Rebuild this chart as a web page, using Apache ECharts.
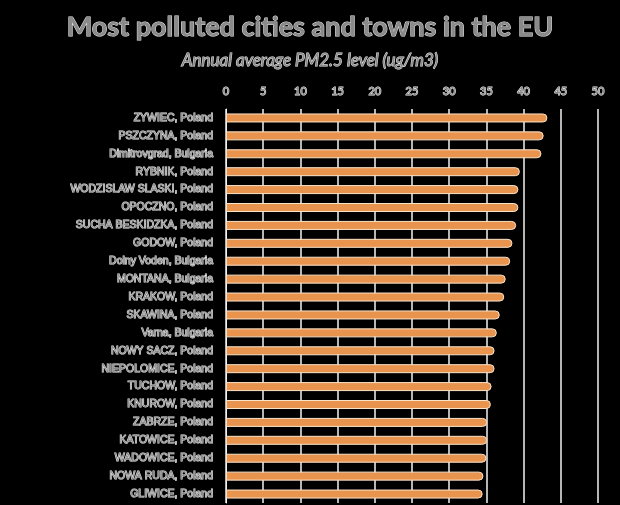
<!DOCTYPE html>
<html>
<head>
<meta charset="utf-8">
<script src="https://cdn.jsdelivr.net/npm/echarts@6/dist/echarts.min.js"></script>
<style>
  html, body { margin: 0; padding: 0; background: #000; }
  #container { width: 620px; height: 505px; }
</style>
</head>
<body>
<div id="container"></div>
<script>
// cities, top to bottom as in the picture
var cities = [
    'ZYWIEC, Poland', 'PSZCZYNA, Poland', 'Dimitrovgrad, Bulgaria', 'RYBNIK, Poland',
    'WODZISLAW SLASKI, Poland', 'OPOCZNO, Poland', 'SUCHA BESKIDZKA, Poland', 'GODOW, Poland',
    'Dolny Voden, Bulgaria', 'MONTANA, Bulgaria', 'KRAKOW, Poland', 'SKAWINA, Poland',
    'Varna, Bulgaria', 'NOWY SACZ, Poland', 'NIEPOLOMICE, Poland', 'TUCHOW, Poland',
    'KNUROW, Poland', 'ZABRZE, Poland', 'KATOWICE, Poland', 'WADOWICE, Poland',
    'NOWA RUDA, Poland', 'GLIWICE, Poland'
];
var pm25 = [
    43.2, 42.7, 42.4, 39.5, 39.3, 39.3, 39.0, 38.5,
    38.2, 37.6, 37.4, 36.8, 36.4, 36.1, 36.1, 35.7,
    35.6, 35.1, 35.1, 35.0, 34.6, 34.5
];
var xTicks = [0, 5, 10, 15, 20, 25, 30, 35, 40, 45, 50];

var grey = '#8a8a8a';
var halo = '#e8e8e8';

var myChart = echarts.init(document.getElementById('container'));

myChart.setOption({
    backgroundColor: '#000',
    animation: false,
    title: [{
        text: 'Most polluted cities and towns in the EU',
        left: 'center',
        top: 9,
        textStyle: {
            color: grey, fontFamily: 'Lato', fontWeight: 'bold', fontSize: 27,
            textBorderColor: halo, textBorderWidth: 1
        }
    }, {
        text: 'Annual average PM2.5 level (ug/m3)',
        left: 'center',
        top: 47,
        textStyle: {
            color: grey, fontFamily: 'Lato', fontStyle: 'italic', fontWeight: 'normal', fontSize: 17,
            textBorderColor: halo, textBorderWidth: 1
        }
    }],
    grid: { left: 226, right: 22, top: 109, bottom: 2, containLabel: false },
    xAxis: {
        type: 'value',
        position: 'top',
        min: xTicks[0],
        max: xTicks[xTicks.length - 1],
        interval: 5,
        axisLine: { show: false },
        axisTick: { show: false },
        axisLabel: {
            color: grey, fontFamily: 'Lato', fontSize: 11, margin: 12,
            textBorderColor: halo, textBorderWidth: 1
        },
        splitLine: { lineStyle: { color: '#f2f2f2', width: 1.5 } }
    },
    yAxis: {
        type: 'category',
        data: cities,
        inverse: true,
        axisLine: { lineStyle: { color: '#f2f2f2', width: 1 } },
        axisTick: { show: false },
        axisLabel: {
            color: grey, fontFamily: 'Liberation Sans', fontSize: 10.5, margin: 13,
            textBorderColor: halo, textBorderWidth: 1
        }
    },
    series: [{
        type: 'bar',
        data: pm25,
        barWidth: 9,
        itemStyle: {
            color: '#e8944f',
            borderColor: '#fbe3c8',
            borderWidth: 1,
            borderRadius: [0, 5, 5, 0]
        }
    }]
});
</script>
</body>
</html>
